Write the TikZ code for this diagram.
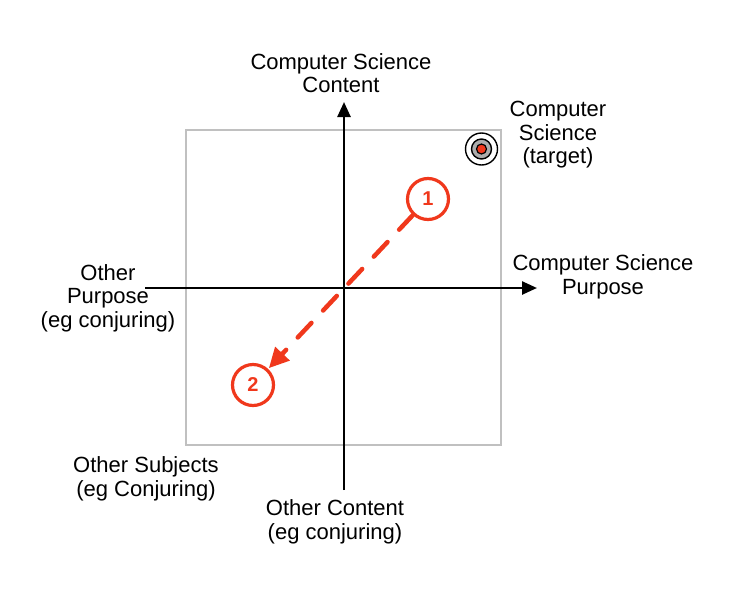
\documentclass[tikz,border=0pt]{standalone}
\usepackage{fontspec}
\setmainfont{Liberation Sans}
\usetikzlibrary{arrows.meta}

\definecolor{mred}{RGB}{240,56,28}
\definecolor{boxgrey}{RGB}{192,192,192}

\begin{document}
\begin{tikzpicture}[x=1pt,y=-1pt,
    lbl/.style={align=center,inner sep=0pt,font=\fontsize{22}{23.5}\selectfont},
    num/.style={circle,draw=mred,line width=3.2pt,text=mred,minimum size=41pt,inner sep=0pt,font=\fontsize{20}{20}\selectfont\bfseries}]

\useasboundingbox (0,0) rectangle (744,592);

\coordinate (bl) at (186,445);
\coordinate (tr) at (501,130);
\coordinate (xl) at (145,288);
\coordinate (xr) at (537,288);
\coordinate (yb) at (344,490);
\coordinate (yt) at (344,102);
\coordinate (tgt) at (481.5,149);

\draw[boxgrey,line width=1.8pt] (bl) rectangle (tr);

\draw[line width=2.5pt,-{Triangle[length=15pt,width=13pt]}] (xl) -- (xr);
\draw[line width=2.5pt,-{Triangle[length=15pt,width=13pt]}] (yb) -- (yt);

% target
\draw[line width=1.4pt,fill=white] (tgt) circle (16pt);
\draw[line width=1.4pt,fill=gray!65] (tgt) circle (10pt);
\draw[line width=1.2pt,fill=mred] (tgt) circle (5pt);

\node[num] (one) at (428,199) {1};
\node[num] (two) at (253,385) {2};

\draw[mred,line width=4.5pt,line cap=round,dash pattern=on 20pt off 17pt,
    -{Triangle[length=20pt,width=19pt,sep=1pt]}] (one) -- (two);

\node[lbl] (cscontent) at (341,73) {Computer Science\\Content};
\node[lbl] (cstarget) at (558,135) {Computer\\Science\\(target)};
\node[lbl] (cspurpose) at (603,277) {Computer Science\\Purpose};
\node[lbl] (opurpose) at (108,298) {Other\\Purpose\\(eg conjuring)};
\node[lbl] (osubjects) at (146,479) {Other Subjects\\(eg Conjuring)};
\node[lbl] (ocontent) at (335,522) {Other Content\\(eg conjuring)};

\end{tikzpicture}
\end{document}
